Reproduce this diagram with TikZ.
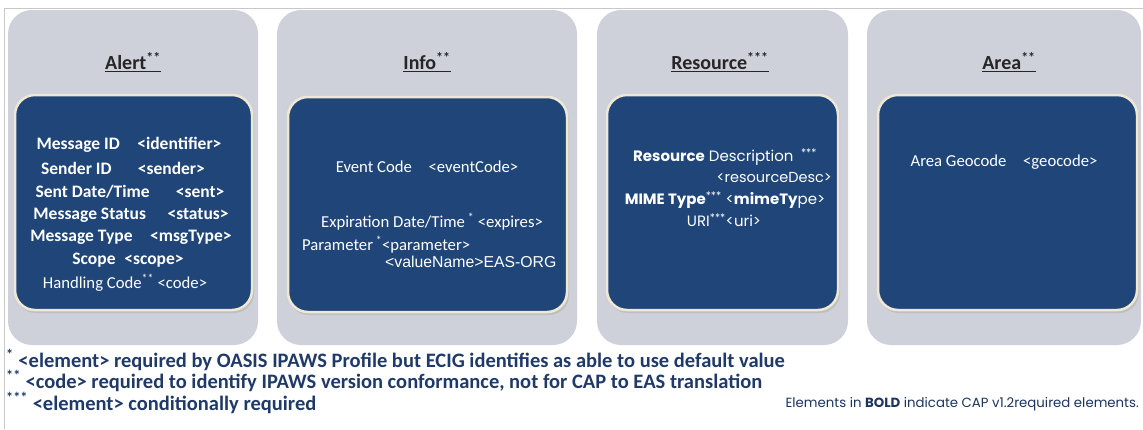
\documentclass[tikz,border=0pt]{standalone}
\usepackage{fontspec}
\setmainfont{Carlito}
\newfontfamily\geo{Poppins}
\newfontfamily\arialf{Liberation Sans}
\definecolor{panelgray}{HTML}{CED1DA}
\definecolor{capblue}{HTML}{1F4579}
\definecolor{rimcream}{HTML}{EEE8D4}
\definecolor{notecol}{HTML}{1F3A68}
\definecolor{framegray}{HTML}{C8C8C8}
\newcommand{\stars}[1]{\textsuperscript{#1}}
\tikzset{
  panel/.style={fill=panelgray, rounded corners=24pt},
  inner/.style={fill=capblue, draw=rimcream, line width=2.5pt, rounded corners=20pt},
  shade/.style={fill=black!25, rounded corners=20pt},
  ttl/.style={font=\fontsize{20}{22}\selectfont\bfseries, text=black!85, inner sep=0pt},
  fld/.style={font=\fontsize{17.5}{20}\selectfont\bfseries, text=white, inner sep=0pt},
  fldr/.style={font=\fontsize{16.7}{19}\selectfont, text=white, inner sep=0pt},
  gfld/.style={font=\geo\fontsize{15}{17}\selectfont, text=white, inner sep=0pt},
  note/.style={font=\fontsize{20.5}{22}\selectfont\bfseries, text=notecol, inner sep=0pt, anchor=west},
}
\begin{document}
\begin{tikzpicture}[x=1pt, y=-1pt]
\useasboundingbox (0,0) rectangle (1143,429);
\fill[white] (0,0) rectangle (1143,429);
% thin frame along the top and left edges
\draw[framegray, line width=0.8pt] (4,429) -- (4,8) -- (1143,8);

% grey panels
\fill[panel] (8,10) rectangle (258,345);
\fill[panel] (277,10) rectangle (577,345);
\fill[panel] (597,10) rectangle (848,345);
\fill[panel] (867,10) rectangle (1141,345);

% blue element boxes with a soft shadow
\foreach \a/\b/\c/\d in {15/95/252/310, 288/97/567/312, 607/95/838/310, 878/95/1137/310}{
  \fill[shade] (\a+1,\b+3) rectangle (\c+2,\d+3);
  \filldraw[inner] (\a,\b) rectangle (\c,\d);
}

% panel titles
\node[ttl] (talert) at (133,62) {\underline{Alert\stars{**}}};
\node[ttl] (tinfo) at (427,62) {\underline{Info\stars{**}}};
\node[ttl] (tres) at (720,62) {\underline{Resource\stars{***}}};
\node[ttl] (tarea) at (1009,62) {\underline{Area\stars{**}}};

% alert elements
\node[fld] (a1) at (129,145) {Message ID\quad {<}identifier{>}};
\node[fld] (a2) at (123,168) {Sender ID\quad\enspace {<}sender{>}};
\node[fld] (a3) at (130,192) {Sent Date/Time\quad\enspace {<}sent{>}};
\node[fld] (a4) at (131,215) {Message Status\quad\ {<}status{>}};
\node[fld] (a5) at (131,237) {Message Type\quad {<}msgType{>}};
\node[fld] (a6) at (128,260) {Scope\enspace {<}scope{>}};
\node[fldr] (a7) at (125,283) {Handling Code\stars{**} {<}code{>}};

% info elements
\node[fldr] (i1) at (427,167) {Event Code\quad {<}eventCode{>}};
\node[fldr] (i2) at (432,222) {Expiration Date/Time\,\stars{*} {<}expires{>}};
\node[fldr, anchor=west] (i3) at (302,245) {Parameter\,\stars{*}{<}parameter{>}};
\node[fldr, anchor=west, font=\arialf\fontsize{15.8}{18}\selectfont] (i4) at (385,262) {{<}valueName{>}EAS-ORG};

% resource elements
\node[gfld] (r1) at (725,157) {\textbf{Resource} Description\enspace\stars{***}};
\node[gfld, anchor=east, font=\geo\fontsize{14.5}{16}\selectfont] (r2) at (832,178) {{<}resourceDesc{>}};
\node[gfld] (r3) at (725,200) {\textbf{MIME Type}\stars{***} {<}\textbf{mimeTy}pe{>}};
\node[gfld] (r4) at (724,220) {URI\stars{***}{<}uri{>}};

% area elements
\node[fldr] (ar1) at (1004,162) {Area Geocode\quad {<}geocode{>}};

% footnotes
\node[note] (n1) at (6,360) {\stars{*} {<}element{>} required by OASIS IPAWS Profile but ECIG identifies as able to use default value};
\node[note] (n2) at (6,381) {\stars{**} {<}code{>} required to identify IPAWS version conformance, not for CAP to EAS translation};
\node[note] (n3) at (6,403) {\stars{***} {<}element{>} conditionally required};
\node[font=\geo\fontsize{13.3}{15}\selectfont, text=notecol!90!black, inner sep=0pt, anchor=east] (legend) at (1139,404) {Elements in \textbf{BOLD} indicate CAP v1.2required elements.};
\end{tikzpicture}
\end{document}
